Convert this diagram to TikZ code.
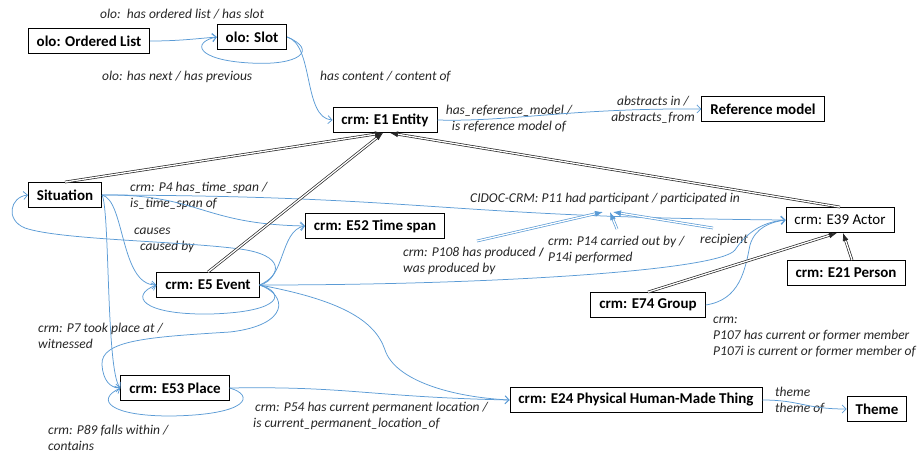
\documentclass[tikz,border=0pt]{standalone}
\usepackage{fontspec}
\setmainfont{Carlito}
\usetikzlibrary{arrows.meta}
\definecolor{linkblue}{RGB}{91,155,213}
\definecolor{labelgray}{RGB}{38,38,38}

\begin{document}
\begin{tikzpicture}[x=1pt,y=-1pt,
  box/.style={draw,line width=0.9pt,minimum height=25pt,inner xsep=8.5pt,font=\fontsize{15}{18}\selectfont\bfseries},
  plainbox/.style={box,font=\fontsize{15}{18}\selectfont},
  lbl/.style={inner sep=0pt,anchor=west,align=left,text=labelgray,font=\fontsize{13.5}{16}\selectfont\itshape},
  rel/.style={draw=linkblue,line width=0.75pt,-{Straight Barb[length=4pt,width=8pt]}},
  isa/.style={draw=black!85,double=white,double distance=1.3pt,line width=0.7pt,-{Latex[length=8pt,width=6pt]}},
  subrel/.style={draw=linkblue,double=white,double distance=1.3pt,line width=0.7pt,-{Latex[length=8pt,width=6pt]}}]
\useasboundingbox (0,0) rectangle (918,455);
\node[box] (olist) at (89,41) {olo: Ordered List};
\node[box] (slot) at (252,37) {olo: Slot};
\node[box] (entity) at (385,120) {crm: E1 Entity};
\node[box] (refmodel) at (763,109) {Reference model};
\node[box] (situation) at (65,195) {Situation};
\node[box] (timespan) at (375,226) {crm: E52 Time span};
\node[plainbox] (actor) at (840,220) {crm: E39 Actor};
\node[box] (person) at (846,273) {crm: E21 Person};
\node[box] (event) at (208,285) {crm: E5 Event};
\node[box] (group) at (648,305) {crm: E74 Group};
\node[box] (place) at (175,388) {crm: E53 Place};
\node[box] (thing) at (636,400) {crm: E24 Physical Human-Made Thing};
\node[box] (theme) at (877,409) {Theme};
%
\node[lbl] (lslot) at (100,14) {olo:\ \ has ordered list / has slot};
\node[lbl] (lnext) at (102,77) {olo: has next / has previous};
\node[lbl] (lcontent) at (320,77) {has content / content of};
\node[lbl,anchor=center,align=center] (lrefmodel) at (509,119) {has\_reference\_model /\\is reference model of};
\node[lbl,anchor=center,align=center] (labstract) at (653,110) {abstracts in /\\abstracts\_from};
\node[lbl] (ltimespan) at (130,196) {crm: P4 has\_time\_span /\\is\_time\_span of};
\node[lbl] (lpart) at (470,199) {CIDOC-CRM: P11 had participant / participated in};
\node[lbl] (lcauses) at (134,240) {causes\\\hspace*{6pt}caused by};
\node[lbl] (lproduced) at (403,261) {crm: P108 has produced {\upshape\bfseries\large /}\\was produced by};
\node[lbl] (lcarried) at (548,250) {crm: P14 carried out by /\\P14i performed};
\node[lbl] (lrecipient) at (700,240) {recipient};
\node[lbl] (ltook) at (38,336) {crm: P7 took place at /\\witnessed};
\node[lbl] (lmember) at (713,337) {crm:\\P107 has current or former member\\P107i is current or former member of};
\node[lbl] (lfalls) at (48,438) {crm: P89 falls within /\\contains};
\node[lbl] (llocation) at (253,416) {\hspace*{2pt}crm: P54 has current permanent location /\\is current\_permanent\_location\_of};
\node[lbl] (ltheme) at (775,401) {theme\\theme of};
%
\coordinate (p11) at (607,212);
\coordinate (p108) at (477,241);
\coordinate (p14) at (617,229);
\coordinate (precip) at (713,228);
%
\draw[rel] (olist.east) to[out=0,in=185] (slot.west);
\draw[rel] (slot.east) .. controls (318,50) and (300,66) .. (250,63) .. controls (195,60) and (192,42) .. (slot.west);
\draw[rel] (slot.east) .. controls (314,45) and (303,118) .. (entity.west);
\draw[rel] (entity.east) .. controls (510,122) and (570,108) .. (refmodel.west);
\draw[rel] (situation.east) .. controls (430,196) and (440,217) .. (actor.west);
\draw[rel] (situation.east) .. controls (200,194) and (200,224) .. (timespan.west);
\draw[rel] (situation.east) .. controls (125,200) and (120,285) .. (event.west);
\draw[rel] (situation.east) .. controls (110,210) and (106,372) .. (place.west);
\draw[rel] (event.east) .. controls (282,275) and (285,255) .. (240,249) .. controls (180,241) and (60,240) .. (25,228) .. controls (5,220) and (10,197) .. (situation.west);
\draw[rel] (event.east) .. controls (285,280) and (280,230) .. (timespan.west);
\draw[rel] (event.east) .. controls (285,292) and (285,312) .. (210,314) .. controls (140,315) and (130,295) .. (event.west);
\draw[rel] (event.east) .. controls (288,295) and (290,325) .. (230,332) .. controls (150,337) and (100,340) .. (102,365) .. controls (103,380) and (110,388) .. (place.west);
\draw[rel] (event.east) .. controls (340,300) and (375,320) .. (385,350) .. controls (395,380) and (450,397) .. (thing.west);
\draw[rel] (event.east) .. controls (500,285) and (720,270) .. (735,250) .. controls (745,235) and (760,222) .. (actor.west);
\draw[rel] (group.east) .. controls (740,300) and (745,270) .. (750,245) .. controls (755,228) and (770,222) .. (actor.west);
\draw[rel] (place.east) .. controls (255,395) and (250,415) .. (170,416) .. controls (110,416) and (95,400) .. (place.west);
\draw[rel] (place.east) .. controls (350,386) and (370,397) .. (thing.west);
\draw[rel] (thing.east) .. controls (800,400) and (805,409) .. (theme.west);
%
\draw[isa] (situation.north) -- ([xshift=-2pt]entity.south);
\draw[isa] (event.north) -- ([xshift=-2pt]entity.south);
\draw[isa] (actor.north) -- ([xshift=5pt]entity.south);
\draw[isa] (group.north) -- ([xshift=-3pt]actor.south);
\draw[isa] ([xshift=6pt]person.north) -- ([xshift=3pt]actor.south);
%
\draw[subrel] (p108) -- ([xshift=-4pt]p11);
\draw[subrel] (p14) -- ([xshift=3pt]p11);
\draw[subrel] (precip) -- ([xshift=6pt]p11);
\end{tikzpicture}
\end{document}
